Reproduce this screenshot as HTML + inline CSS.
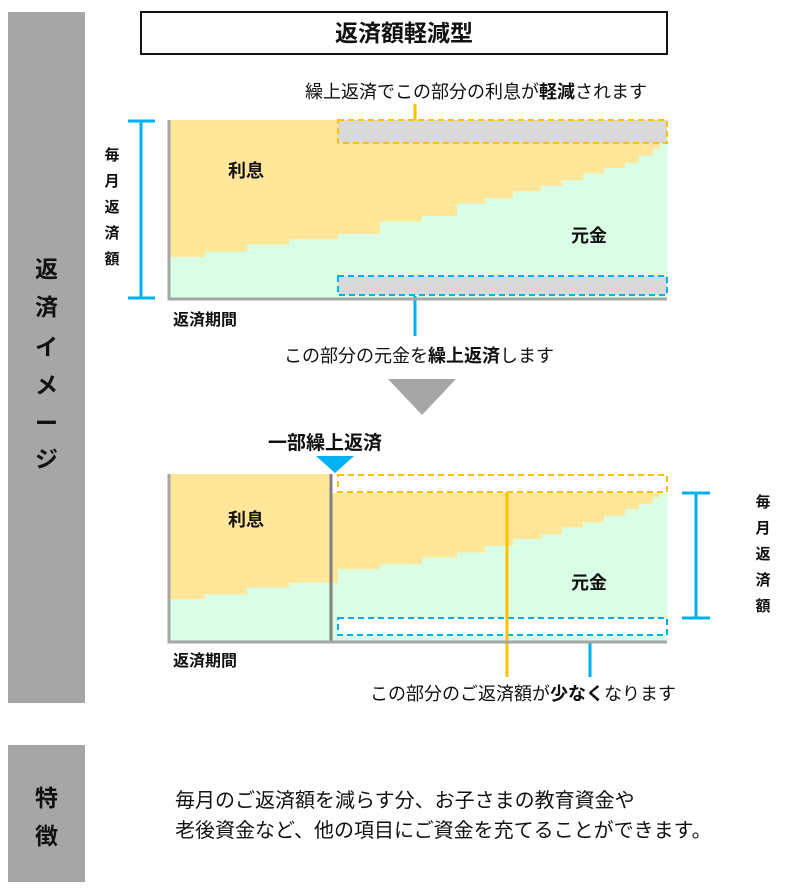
<!DOCTYPE html>
<html><head><meta charset="utf-8"><style>
body{margin:0;width:810px;height:889px;background:#fff;position:relative;overflow:hidden;font-family:"Liberation Sans","Noto Sans CJK JP",sans-serif;color:#111}
.abs{position:absolute}
.side{position:absolute;left:8px;width:77px;background:#a6a6a6}
.vch{position:absolute;left:0;width:77px;text-align:center;font-weight:bold;font-size:23px;color:#111}
.t{position:absolute;white-space:nowrap;font-size:18px}
.b{font-weight:bold}
</style></head><body>
<div class="side" style="top:12px;height:691px">
  <div class="vch" style="top:238px">返</div>
  <div class="vch" style="top:276px">済</div>
  <div class="vch" style="top:316px">イ</div>
  <div class="vch" style="top:354px">メ</div>
  <div class="vch" style="top:392px">ー</div>
  <div class="vch" style="top:428px">ジ</div>
</div>
<div class="side" style="top:745px;height:137px">
  <div class="vch" style="top:34px">特</div>
  <div class="vch" style="top:72px">徴</div>
</div>
<div class="abs" style="left:140px;top:11px;width:524px;height:40px;border:2px solid #111;text-align:center;line-height:40px;font-size:23px;font-weight:bold">返済額軽減型</div>

<div class="t" style="left:305px;top:78px">繰上返済でこの部分の利息が<b>軽減</b>されます</div>
<div class="t" style="left:284px;top:342px">この部分の元金を<b>繰上返済</b>します</div>
<div class="t b" style="left:268px;top:428px;font-size:19px">一部繰上返済</div>
<div class="t" style="left:370px;top:680px">この部分のご返済額が<b>少なく</b>なります</div>
<div class="t" style="left:175px;top:786px;font-size:20px;line-height:30px">毎月のご返済額を減らす分、お子さまの教育資金や<br>老後資金など、他の項目にご資金を充てることができます。</div>

<svg class="abs" style="left:0;top:0" width="810" height="889" id="chart"></svg>
<script>
// step boundaries (period index) and principal share per step (0-1 of original monthly payment)
const topPrincipal=[0.23,0.26,0.30,0.33,0.36,0.43,0.46,0.53,0.56,0.60,0.63,0.66,0.70,0.73,0.76,0.80,0.84,0.87];
const bottomPrincipal=[0.25,0.28,0.32,0.35,0.43,0.46,0.50,0.53,0.57,0.61,0.64,0.68,0.71,0.75,0.79,0.82,0.86,0.89];
const stepEdges=[0,5,11,17,24,30,36,41,45,49,53,56,59,62,65,67,69,70,71];
const ns="http://www.w3.org/2000/svg";
const svg=document.getElementById('chart');
function mk(tag,attrs,name){const e=document.createElementNS(ns,tag);for(const k in attrs)e.setAttribute(k,attrs[k]);


svg.appendChild(e);return e;}
function drawChart(x0,x1,yTop,yBot,values,prefix){
  const sx=i=>x0+(x1-x0)*stepEdges[i]/stepEdges[stepEdges.length-1];
  const sy=v=>yBot-(yBot-yTop)*v;
  mk('rect',{x:x0,y:yTop,width:x1-x0,height:yBot-yTop,fill:'#ffe699'},prefix+'-interest-area');
  for(let i=0;i<values.length;i++){
    mk('rect',{x:sx(i),y:sy(values[i]),width:sx(i+1)-sx(i)+0.5,height:yBot-sy(values[i]),fill:'#d9fde5'},prefix+'-principal-step');
  }
}
drawChart(170,667,120,298,topPrincipal,'top-chart');
mk('rect',{x:338,y:120,width:329,height:23,fill:'#d9d9d9',stroke:'#ffc000','stroke-width':2,'stroke-dasharray':'6 4'},'top-interest-reduced-box');
mk('rect',{x:338,y:276,width:329,height:19,fill:'#d9d9d9',stroke:'#00b0f0','stroke-width':2,'stroke-dasharray':'6 4'},'top-principal-prepay-box');
mk('line',{x1:415,y1:104,x2:415,y2:120,stroke:'#ffc000','stroke-width':3},'top-interest-leader');
mk('line',{x1:415,y1:296,x2:415,y2:336,stroke:'#00b0f0','stroke-width':3},'top-principal-leader');
mk('polyline',{points:'169,120 169,299 667,299',fill:'none',stroke:'#a6a6a6','stroke-width':3},'top-axes');
mk('path',{d:'M128,121 H155 M141,121 V298 M128,298 H155',stroke:'#00b0f0','stroke-width':3,fill:'none'},'top-monthly-bracket');
drawChart(170,667,474,641,bottomPrincipal,'bottom-chart');
mk('rect',{x:332,y:474,width:335,height:19,fill:'#fff'},'bottom-removed-band');
mk('rect',{x:338,y:475,width:329,height:17,fill:'#fff',stroke:'#ffc000','stroke-width':2,'stroke-dasharray':'6 4'},'bottom-interest-box');
mk('rect',{x:338,y:618,width:329,height:17,fill:'#fff',stroke:'#00b0f0','stroke-width':2,'stroke-dasharray':'6 4'},'bottom-principal-box');
mk('line',{x1:507,y1:492,x2:507,y2:677,stroke:'#ffc000','stroke-width':3},'bottom-yellow-leader');
mk('line',{x1:590,y1:642,x2:590,y2:677,stroke:'#00b0f0','stroke-width':3},'bottom-blue-leader');
mk('line',{x1:331,y1:474,x2:331,y2:641,stroke:'#7f7f7f','stroke-width':3},'prepay-divider');
mk('polyline',{points:'169,474 169,642 667,642',fill:'none',stroke:'#a6a6a6','stroke-width':3},'bottom-axes');
mk('path',{d:'M682,493 H710 M696,493 V618 M682,618 H710',stroke:'#00b0f0','stroke-width':3,fill:'none'},'bottom-monthly-bracket');
mk('polygon',{points:'388,379 456,379 422,415',fill:'#a6a6a6'},'down-arrow');
mk('polygon',{points:'316,456 354,456 335,473',fill:'#00b0f0'},'prepay-marker');
function txt(x,y,s,size,name,anchor){const t=mk('text',{x:x,y:y,'font-size':size,'font-weight':'bold','text-anchor':anchor||'start',fill:'#111','font-family':'Liberation Sans, Noto Sans CJK JP, sans-serif'},name);t.textContent=s;return t;}
txt(228,177,'利息',18,'top-interest-label');
txt(571,242,'元金',18,'top-principal-label');
txt(173,325,'返済期間',16,'top-x-axis-label');
txt(228,526,'利息',18,'bottom-interest-label');
txt(571,589,'元金',18,'bottom-principal-label');
txt(173,666,'返済期間',16,'bottom-x-axis-label');
['毎','月','返','済','額'].forEach((c,i)=>txt(112,160+i*26,c,15,'top-monthly-label-char','middle'));
['毎','月','返','済','額'].forEach((c,i)=>txt(763,507+i*26,c,15,'bottom-monthly-label-char','middle'));
</script>
</body></html>
